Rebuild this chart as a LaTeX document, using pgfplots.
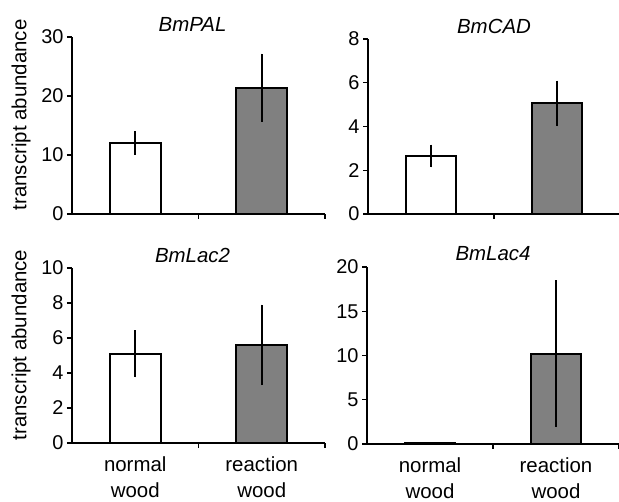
\documentclass[border=0pt]{standalone}
\usepackage{fontspec}
\setmainfont{Liberation Sans}
\usepackage{pgfplots}
\pgfplotsset{compat=1.18}

\pgfplotsset{
  panel/.style={
    scale only axis, axis lines*=left, anchor=south west,
    xmin=-0.5, xmax=1.5, ymin=0,
    bar width=0.4,
    axis line style={line width=1.3bp},
    tick style={line width=1.3bp, black},
    tick align=outside, major tick length=5bp,
    xtick={0.5,1.5}, xticklabels={},
    /pgf/number format/assume math mode=true,
    tick label style={font=\fontsize{20}{24}\selectfont},
    title style={font=\fontsize{20.5}{24}\itshape, at={(axis description cs:0.5,1)}, anchor=center, yshift=7bp},
    ylabel style={font=\fontsize{20.5}{24}\selectfont, at={(axis description cs:-0.2016,0.56)}, anchor=center},
  },
  woodlabels/.style={
    extra x ticks={0,1},
    extra x tick labels={normal\\wood, reaction\\wood},
    extra x tick style={major tick length=0pt, tick label style={align=center, yshift=-10bp, font=\fontsize{20.5}{26}\selectfont}},
  },
  errs/.style={error bars/.cd, y dir=both, y explicit, error mark=none,
    error bar style={line width=1.9bp, black}},
}

\begin{document}
\begin{tikzpicture}
\useasboundingbox (0,0) rectangle (619bp,502bp);

% BmPAL
\begin{axis}[panel, at={(72bp,288bp)}, width=253bp, height=177bp,
  ymax=30, ytick={0,10,20,30}, title={BmPAL}, title style={xshift=-6bp},
  ylabel={transcript abundance}]
\addplot[ybar, fill=white, draw=black, line width=2bp, errs] coordinates {(0,12.0) +- (0,2.0)};
\addplot[ybar, fill=gray, draw=black, line width=2bp, errs] coordinates {(1,21.4) +- (0,5.8)};
\end{axis}

% BmCAD
\begin{axis}[panel, at={(368bp,288bp)}, width=252bp, height=175bp,
  ymax=8, ytick={0,2,4,6,8}, title={BmCAD}]
\addplot[ybar, fill=white, draw=black, line width=2bp, errs] coordinates {(0,2.65) +- (0,0.52)};
\addplot[ybar, fill=gray, draw=black, line width=2bp, errs] coordinates {(1,5.06) +- (0,1.04)};
\end{axis}

% BmLac2
\begin{axis}[panel, woodlabels, at={(72bp,59bp)}, width=253bp, height=175bp,
  ymax=10, ytick={0,2,4,6,8,10}, title={BmLac2}, title style={xshift=-6bp},
  ylabel={transcript abundance}]
\addplot[ybar, fill=white, draw=black, line width=2bp, errs] coordinates {(0,5.09) +- (0,1.34)};
\addplot[ybar, fill=gray, draw=black, line width=2bp, errs] coordinates {(1,5.6) +- (0,2.3)};
\end{axis}

% BmLac4
\begin{axis}[panel, woodlabels, at={(367bp,58bp)}, width=252bp, height=177bp,
  ymax=20, ytick={0,5,10,15,20}, title={BmLac4}]
\addplot[ybar, fill=white, draw=black, line width=2bp] coordinates {(0,0.15)};
\addplot[ybar, fill=gray, draw=black, line width=2bp, errs] coordinates {(1,10.2) +- (0,8.3)};
\end{axis}
\end{tikzpicture}
\end{document}
